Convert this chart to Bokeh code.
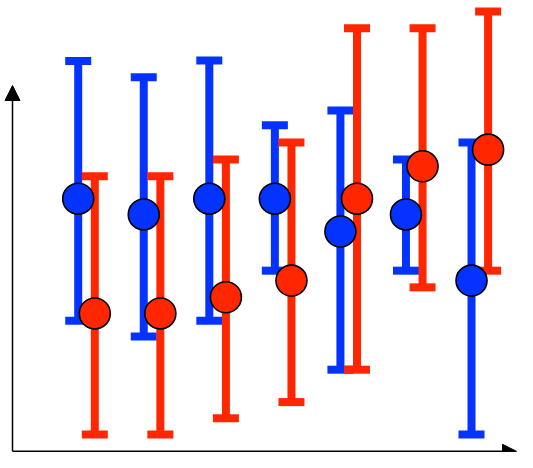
from bokeh.plotting import figure
from bokeh.models import ColumnDataSource, Range1d, Arrow, NormalHead
from bokeh.transform import dodge
from bokeh.embed import file_html
from bokeh.resources import INLINE

groups = [1, 2, 3, 4, 5, 6, 7]
blue_mean = [58.4, 54.9, 58.4, 58.4, 51.1, 54.9, 40.2]
blue_upper = [89.0, 85.4, 89.1, 74.7, 78.0, 67.1, 70.9]
blue_lower = [31.3, 27.8, 31.3, 42.4, 20.4, 42.4, 6.0]
red_mean = [32.9, 32.9, 36.5, 40.2, 58.4, 65.6, 69.3]
red_upper = [63.4, 63.4, 67.1, 70.9, 96.3, 96.3, 100.0]
red_lower = [6.0, 6.0, 9.6, 13.2, 20.4, 38.7, 42.4]

BLUE = "#0433FF"
RED = "#FF2600"

blue_src = ColumnDataSource(dict(x=groups, mean=blue_mean, upper=blue_upper, lower=blue_lower))
red_src = ColumnDataSource(dict(x=groups, mean=red_mean, upper=red_upper, lower=red_lower))

W, H = 517, 452
x0, x1 = -0.312, 7.575
y0, y1 = 2.0, 102.44

p = figure(width=W, height=H, x_range=Range1d(x0, x1), y_range=Range1d(y0, y1),
           x_axis_type=None, y_axis_type=None, toolbar_location=None,
           output_backend="svg", min_border=0, outline_line_color=None,
           background_fill_color="white", border_fill_color="white")
p.grid.visible = False

OFF = 0.1266
for src, col, off in ((blue_src, BLUE, -OFF), (red_src, RED, OFF)):
    xd = dodge("x", off, range=p.x_range)
    p.segment(x0=xd, y0="lower", x1=xd, y1="upper", source=src,
              line_color=col, line_width=8)
    for key in ("upper", "lower"):
        p.rect(x=xd, y=key, width=26, height=8, width_units="screen",
               height_units="screen", source=src, fill_color=col, line_color=None)

for src, col, off in ((blue_src, BLUE, -OFF), (red_src, RED, OFF)):
    xd = dodge("x", off, range=p.x_range)
    p.scatter(x=xd, y="mean", size=31, source=src, fill_color=col,
              line_color="black", line_width=1.6)

# axes with arrow heads, placed relative to the frame
ax_x = x0 + (x1 - x0) * 12.0 / W
ax_y = y0 + (y1 - y0) * 1.2 / H
p.add_layout(Arrow(x_start=ax_x, y_start=ax_y, x_end=x0 + (x1 - x0) * 516.0 / W, y_end=ax_y,
                   line_color="black", line_width=1.5,
                   end=NormalHead(size=14, fill_color="black", line_color="black")))
p.add_layout(Arrow(x_start=ax_x, y_start=ax_y, x_end=ax_x, y_end=y1 - (y1 - y0) * 85.0 / H,
                   line_color="black", line_width=1.5,
                   end=NormalHead(size=15, fill_color="black", line_color="black")))

open("out.html", "w").write(file_html(p, INLINE))
